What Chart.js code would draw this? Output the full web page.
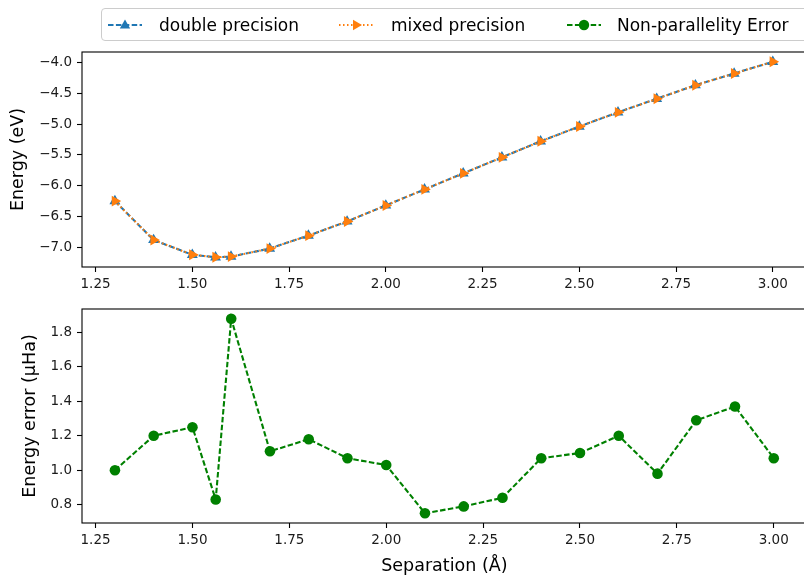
<!DOCTYPE html>
<html>
<head>
<meta charset="utf-8">
<script src="https://cdn.jsdelivr.net/npm/chart.js@4/dist/chart.umd.min.js"></script>
<style>
html,body{margin:0;padding:0;width:804px;height:576px;overflow:hidden;background:#fff;font-family:"DejaVu Sans",sans-serif;}
#w1{position:absolute;left:0;top:0;width:812px;height:290px;}
#w2{position:absolute;left:0;top:290px;width:812px;height:286px;}
#legend{position:absolute;left:101px;top:8px;width:712px;height:33px;border:1px solid #cccccc;border-radius:4px;background:rgba(255,255,255,0.8);box-sizing:border-box;}
.lg{position:absolute;}
.lt{position:absolute;top:14px;line-height:22px;font-size:17px;color:#000;white-space:nowrap;font-family:"DejaVu Sans",sans-serif;}
</style>
</head>
<body>
<div id="w1"><canvas id="c1" width="812" height="290"></canvas></div>
<div id="w2"><canvas id="c2" width="812" height="286"></canvas></div>
<div id="legend"></div>
<svg class="lg" style="left:108px;top:18px" width="34" height="14">
  <line x1="0" y1="7" x2="34" y2="7" stroke="#1f77b4" stroke-width="2.1" stroke-dasharray="5.5 2.4"/>
  <polygon points="17,1.5 22.2,10.5 11.8,10.5" fill="#1f77b4"/>
</svg>
<span class="lt" style="left:159px">double precision</span>
<svg class="lg" style="left:339px;top:18px" width="34" height="14">
  <line x1="0" y1="7" x2="34" y2="7" stroke="#ff7f0e" stroke-width="2.1" stroke-dasharray="1.5 2.5"/>
  <polygon points="23,7 14,1.8 14,12.2" fill="#ff7f0e"/>
</svg>
<span class="lt" style="left:391px">mixed precision</span>
<svg class="lg" style="left:567px;top:18px" width="34" height="14">
  <line x1="0" y1="7" x2="34" y2="7" stroke="#008000" stroke-width="2.1" stroke-dasharray="5.5 2.4"/>
  <circle cx="17" cy="7" r="5.2" fill="#008000"/>
</svg>
<span class="lt" style="left:617px">Non-parallelity Error</span>
<script>
// ---- data ----
const separation = [1.3, 1.4, 1.5, 1.56, 1.6, 1.7, 1.8, 1.9, 2.0, 2.1, 2.2, 2.3, 2.4, 2.5, 2.6, 2.7, 2.8, 2.9, 3.0];
const doublePrecision = [-6.25, -6.88, -7.12, -7.16, -7.15, -7.02, -6.81, -6.58, -6.32, -6.06, -5.80, -5.54, -5.28, -5.04, -4.81, -4.59, -4.37, -4.18, -3.99];
const mixedPrecision = [-6.25, -6.88, -7.12, -7.16, -7.15, -7.02, -6.81, -6.58, -6.32, -6.06, -5.80, -5.54, -5.28, -5.04, -4.81, -4.59, -4.37, -4.18, -3.99];
const nonParallelityError = [1.00, 1.20, 1.25, 0.83, 1.88, 1.11, 1.18, 1.07, 1.03, 0.75, 0.79, 0.84, 1.07, 1.10, 1.20, 0.98, 1.29, 1.37, 1.07];
const xTicks = [1.25, 1.50, 1.75, 2.00, 2.25, 2.50, 2.75, 3.00];
const energyTicks = [-7.0, -6.5, -6.0, -5.5, -5.0, -4.5, -4.0];
const errorTicks = [0.8, 1.0, 1.2, 1.4, 1.6, 1.8];

const toXY = (xs, ys) => xs.map((x, i) => ({x: x, y: ys[i]}));
function padRange(arrs) {
  const all = [].concat(...arrs);
  const lo = Math.min(...all), hi = Math.max(...all), m = (hi - lo) * 0.05;
  return [lo - m, hi + m];
}
const fmt = (v, d) => v.toFixed(d).replace('-', '\u2212');

const spines = {
  id: 'spines',
  afterDatasetsDraw(chart) {
    const a = chart.chartArea, ctx = chart.ctx;
    ctx.save();
    ctx.strokeStyle = '#000';
    ctx.lineWidth = 1.1;
    ctx.strokeRect(a.left, a.top, a.right - a.left, a.bottom - a.top);
    ctx.restore();
  }
};

const tickFont = {family: 'DejaVu Sans', size: 13.5};
const titleFont = {family: 'DejaVu Sans', size: 17.5};
const [xmin, xmax] = padRange([separation]);

function xScale(showTitle, h) {
  return {
    type: 'linear', min: xmin, max: xmax,
    afterBuildTicks: s => { s.ticks = xTicks.map(v => ({value: v})); },
    afterFit: s => { s.height = h; },
    grid: {drawOnChartArea: false, drawTicks: true, tickLength: 5, tickColor: '#000', tickWidth: 1.1, color: '#000'},
    border: {display: false},
    ticks: {font: tickFont, color: '#1a1a1a', padding: 4, maxRotation: 0, autoSkip: false, callback: v => fmt(v, 2)},
    title: {display: showTitle, text: 'Separation (\u00C5)', font: titleFont, color: '#000', padding: {top: 0, bottom: -1}}
  };
}
function yScale(range, ticks, label, titlePad) {
  return {
    type: 'linear', min: range[0], max: range[1],
    afterBuildTicks: s => { s.ticks = ticks.map(v => ({value: v})); },
    afterFit: s => { s.width = 82; },
    grid: {drawOnChartArea: false, drawTicks: true, tickLength: 5, tickColor: '#000', tickWidth: 1.1, color: '#000'},
    border: {display: false},
    ticks: {font: tickFont, color: '#1a1a1a', padding: 5, autoSkip: false, callback: v => fmt(v, 1)},
    title: {display: true, text: label, font: titleFont, color: '#000', padding: {top: titlePad, bottom: 0}}
  };
}
const common = {
  responsive: false, animation: false, events: [],
  plugins: {legend: {display: false}, tooltip: {enabled: false}}
};

new Chart(document.getElementById('c1'), {
  type: 'line',
  data: {datasets: [
    {label: 'double precision', data: toXY(separation, doublePrecision), order: 1,
     borderColor: '#1f77b4', backgroundColor: '#1f77b4', borderWidth: 2.1, borderDash: [5.5, 2.4],
     pointStyle: 'triangle', pointRadius: 6.3, pointBorderWidth: 0, pointBackgroundColor: '#1f77b4', tension: 0},
    {label: 'mixed precision', data: toXY(separation, mixedPrecision), order: 0,
     borderColor: '#ff7f0e', backgroundColor: '#ff7f0e', borderWidth: 2.1, borderDash: [1.5, 2.5],
     pointStyle: 'triangle', pointRotation: 90, pointRadius: 6.3, pointBorderWidth: 0, pointBackgroundColor: '#ff7f0e', tension: 0}
  ]},
  options: Object.assign({}, common, {
    layout: {padding: {top: 52, right: 4, left: 0, bottom: 0}},
    scales: {x: xScale(false, 23), y: yScale(padRange([doublePrecision, mixedPrecision]), energyTicks, 'Energy (eV)', 7.5)}
  }),
  plugins: [spines]
});

new Chart(document.getElementById('c2'), {
  type: 'line',
  data: {datasets: [
    {label: 'Non-parallelity Error', data: toXY(separation, nonParallelityError),
     borderColor: '#008000', backgroundColor: '#008000', borderWidth: 2.1, borderDash: [5.5, 2.4],
     pointStyle: 'circle', pointRadius: 5.3, pointBorderWidth: 0, pointBackgroundColor: '#008000', tension: 0}
  ]},
  options: Object.assign({}, common, {
    layout: {padding: {top: 19, right: 4, left: 0, bottom: 0}},
    scales: {x: xScale(true, 53), y: yScale(padRange([nonParallelityError]), errorTicks, 'Energy error (\u03BCHa)', 20)}
  }),
  plugins: [spines]
});
</script>
</body>
</html>
